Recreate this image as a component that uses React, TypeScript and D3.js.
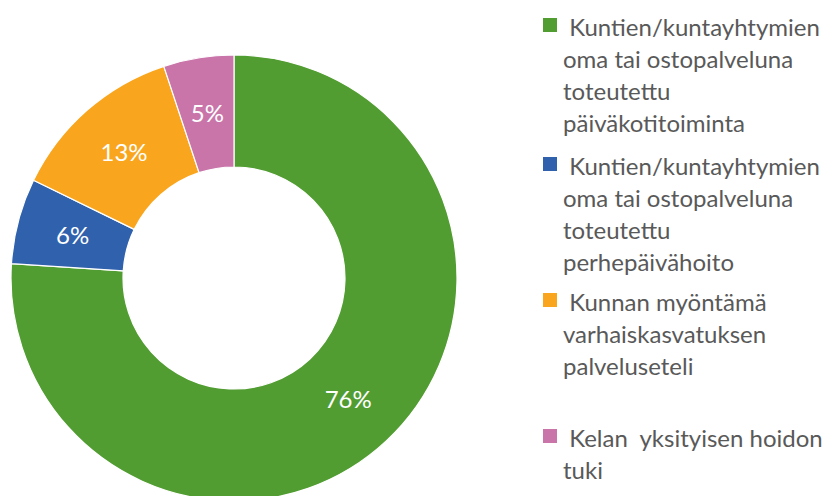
import React from "react";
import * as d3 from "d3";

const categories = [
  "Kuntien/kuntayhtymien oma tai ostopalveluna toteutettu päiväkotitoiminta",
  "Kuntien/kuntayhtymien oma tai ostopalveluna toteutettu perhepäivähoito",
  "Kunnan myöntämä varhaiskasvatuksen palveluseteli",
  "Kelan yksityisen hoidon tuki",
];
const values = [76.1, 6.2, 12.7, 5.1];
const colors = ["#529D32", "#3061AD", "#F9A61E", "#C975AA"];
const legendLines = [
  [" Kuntien/kuntayhtymien", "oma tai ostopalveluna", "toteutettu", "päiväkotitoiminta"],
  [" Kuntien/kuntayhtymien", "oma tai ostopalveluna", "toteutettu", "perhepäivähoito"],
  [" Kunnan myöntämä", "varhaiskasvatuksen", "palveluseteli"],
  [" Kelan  yksityisen hoidon", "tuki"],
];

const W = 837;
const H = 496;
const cx = 234;
const cy = 278;
const outerR = 223;
const innerR = 111;
const legendTop = [36, 175, 311, 447];
const lineH = 32;
const font = "Lato, 'Open Sans', sans-serif";

export default function App() {
  const total = d3.sum(values);
  const pie = d3
    .pie<number>()
    .sort(null)
    .value((d) => d);
  const arcs = pie(values);
  const arc = d3.arc<d3.PieArcDatum<number>>().innerRadius(innerR).outerRadius(outerR);

  return (
    <svg
      width={W}
      height={H}
      style={{ position: "absolute", left: 0, top: 0, background: "#fff" }}
    >
      <g transform={`translate(${cx},${cy})`}>
        {arcs.map((a, i) => (
          <path key={i} d={arc(a) || ""} fill={colors[i]} stroke="#fff" strokeWidth={1.2} />
        ))}
        {arcs.map((a, i) => {
          const [x, y] = arc.centroid(a);
          return (
            <text
              key={"l" + i}
              x={x}
              y={y}
              dy="0.36em"
              textAnchor="middle"
              fill="#fff"
              fontFamily={font}
              fontSize={24}
            >
              {Math.round((values[i] / total) * 100)}%
            </text>
          );
        })}
      </g>
      <g>
        {legendLines.map((lines, i) => (
          <g key={categories[i]}>
            <rect x={543} y={legendTop[i] - 18} width={14} height={14} fill={colors[i]} />
            {lines.map((ln, j) => (
              <text
                key={j}
                x={j === 0 ? 563 : 563}
                y={legendTop[i] + j * lineH}
                fill="#595959"
                fontFamily={font}
                fontSize={24}
                style={{ whiteSpace: "pre" }}
              >
                {ln}
              </text>
            ))}
          </g>
        ))}
      </g>
    </svg>
  );
}
